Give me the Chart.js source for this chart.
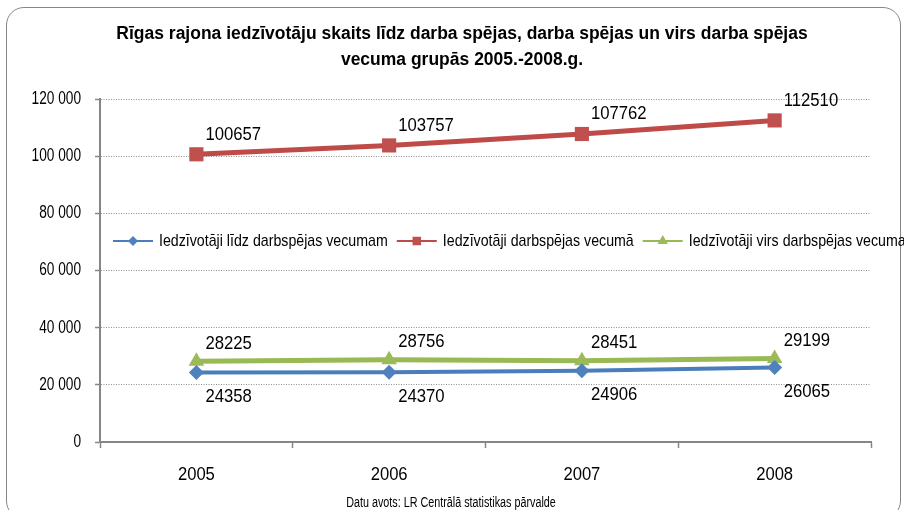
<!DOCTYPE html>
<html>
<head>
<meta charset="utf-8">
<script src="https://cdn.jsdelivr.net/npm/chart.js@4.4.0/dist/chart.umd.min.js"></script>
<style>
  html, body { margin: 0; padding: 0; background: #fff; overflow: hidden; }
  #wrap { position: relative; width: 904px; height: 510px; overflow: hidden;
          font-family: "Liberation Sans", Arial, sans-serif; }
  #frame { position: absolute; left: 6px; top: 7px; width: 895px; height: 512px;
           border: 1px solid #868686; border-radius: 18px; box-sizing: border-box; }
  #cut { position: absolute; left: 0; width: 920px; top: -14px; text-align: center;
         font-weight: bold; font-size: 16px; line-height: 18px; transform: scaleX(0.85); }
  #title { position: absolute; left: 0; width: 924px; top: 20px; text-align: center;
           font-weight: bold; font-size: 18px; line-height: 26px; color: #000;
           transform: scaleX(0.972); transform-origin: 462px 0; }
  #source { position: absolute; left: 0; width: 902px; top: 494px; text-align: center;
            font-size: 14px; line-height: 16px; color: #000;
            transform: scaleX(0.77); transform-origin: 451px 0; }
  canvas { position: absolute; left: 0; top: 0; }
</style>
</head>
<body>
<div id="wrap">
  <div id="cut">statistika:</div>
  <div id="frame"></div>
  <canvas id="chart" width="904" height="510"></canvas>
  <div id="title">Rīgas rajona iedzīvotāju skaits līdz darba spējas, darba spējas un virs darba spējas<br>vecuma grupās 2005.-2008.g.</div>
  <div id="source">Datu avots: LR Centrālā statistikas pārvalde</div>
</div>
<script>
// dati
const years = ['2005', '2006', '2007', '2008'];
const lidzDarbspejas = [24358, 24370, 24906, 26065];
const darbspejas = [100657, 103757, 107762, 112510];
const virsDarbspejas = [28225, 28756, 28451, 29199];
const seriesNames = [
  'Iedzīvotāji līdz darbspējas vecumam',
  'Iedzīvotāji darbspējas vecumā',
  'Iedzīvotāji virs darbspējas vecuma'
];
const yMax = 120000;
const yStep = 20000;

const FONT = '"Liberation Sans", Arial, sans-serif';

// teksts, saspiests horizontāli (šaurais Excel fonts)
function narrowText(ctx, text, x, y, align, size, sx) {
  ctx.save();
  ctx.translate(x, y);
  ctx.scale(sx, 1);
  ctx.font = size + 'px ' + FONT;
  ctx.textAlign = align;
  ctx.textBaseline = 'middle';
  ctx.fillStyle = '#000';
  ctx.fillText(text, 0, 0);
  const w = ctx.measureText(text).width * sx;
  ctx.restore();
  return w;
}

function fmt(v) {
  return String(v).replace(/\B(?=(\d{3})+(?!\d))/g, ' ');
}

// asu uzraksti
const axisText = {
  id: 'axisText',
  afterDraw(chart) {
    const ctx = chart.ctx;
    const xs = chart.scales.x, ys = chart.scales.y;
    ys.ticks.forEach((t, i) => {
      narrowText(ctx, fmt(t.value), ys.right - 19, ys.getPixelForTick(i), 'right', 18, 0.76);
    });
    xs.ticks.forEach((t, i) => {
      narrowText(ctx, years[i], xs.getPixelForTick(i), xs.top + 33, 'center', 19, 0.875);
    });
  }
};

// vērtību etiķetes pie punktiem
const valueLabels = {
  id: 'valueLabels',
  afterDatasetsDraw(chart) {
    const ctx = chart.ctx;
    chart.data.datasets.forEach((ds, i) => {
      const meta = chart.getDatasetMeta(i);
      meta.data.forEach((pt, j) => {
        narrowText(ctx, String(ds.data[j]), pt.x + 9, pt.y + ds.labelDy, 'left', 19, 0.88);
      });
    });
  }
};

// leģenda grafika iekšpusē
const insideLegend = {
  id: 'insideLegend',
  afterDraw(chart) {
    const ctx = chart.ctx;
    const y = 241;
    let x = 113;
    chart.data.datasets.forEach(ds => {
      ctx.save();
      ctx.strokeStyle = ds.borderColor;
      ctx.lineWidth = 2;
      ctx.beginPath();
      ctx.moveTo(x, y);
      ctx.lineTo(x + 40, y);
      ctx.stroke();
      ctx.fillStyle = ds.pointBackgroundColor;
      Chart.helpers.drawPoint(ctx, { pointStyle: ds.pointStyle, radius: ds.legendRadius, borderWidth: 0, rotation: 0 }, x + 20, y);
      ctx.restore();
      const w = narrowText(ctx, ds.label, x + 46, y, 'left', 17, 0.835);
      x += 46 + w + 9;
    });
  }
};

const chart = new Chart(document.getElementById('chart'), {
  type: 'line',
  data: {
    labels: years,
    datasets: [
      {
        label: seriesNames[0], data: lidzDarbspejas,
        borderColor: '#4A7EBB', borderWidth: 4,
        pointStyle: 'rectRot', pointRadius: 7.5,
        pointBackgroundColor: '#4F81BD', pointBorderWidth: 0,
        labelDy: 24, legendRadius: 5
      },
      {
        label: seriesNames[1], data: darbspejas,
        borderColor: '#BE4B48', borderWidth: 5,
        pointStyle: 'rect', pointRadius: 10,
        pointBackgroundColor: '#C0504D', pointBorderWidth: 0,
        labelDy: -20, legendRadius: 6
      },
      {
        label: seriesNames[2], data: virsDarbspejas,
        borderColor: '#98B954', borderWidth: 5,
        pointStyle: 'triangle', pointRadius: 9,
        pointBackgroundColor: '#9BBB59', pointBorderWidth: 0,
        labelDy: -18, legendRadius: 6
      }
    ]
  },
  options: {
    responsive: false,
    animation: false,
    devicePixelRatio: 1,
    layout: { padding: { top: 99, left: 0, right: 33, bottom: 0 } },
    plugins: {
      legend: { display: false },
      title: { display: false },
      tooltip: { enabled: false }
    },
    elements: { line: { tension: 0 } },
    scales: {
      x: {
        offset: true,
        afterFit: s => { s.height = 68; },
        grid: { offset: true, drawOnChartArea: false, drawTicks: true, tickLength: 6, tickColor: '#868686', tickWidth: 1.5 },
        border: { display: true, color: '#868686', width: 2 },
        ticks: { color: 'rgba(0,0,0,0)', font: { family: FONT, size: 19 }, padding: 13 }
      },
      y: {
        min: 0, max: yMax,
        afterFit: s => { s.width = 100; },
        grid: { color: '#8c8c8c', lineWidth: 1, drawTicks: true, tickLength: 5, tickColor: '#868686', tickWidth: 1.5 },
        border: { display: true, color: '#868686', width: 2, dash: [1, 1.5] },
        ticks: { stepSize: yStep, color: 'rgba(0,0,0,0)', font: { family: FONT, size: 17 }, padding: 14, callback: fmt }
      }
    }
  },
  plugins: [valueLabels, insideLegend, axisText]
});
</script>
</body>
</html>
